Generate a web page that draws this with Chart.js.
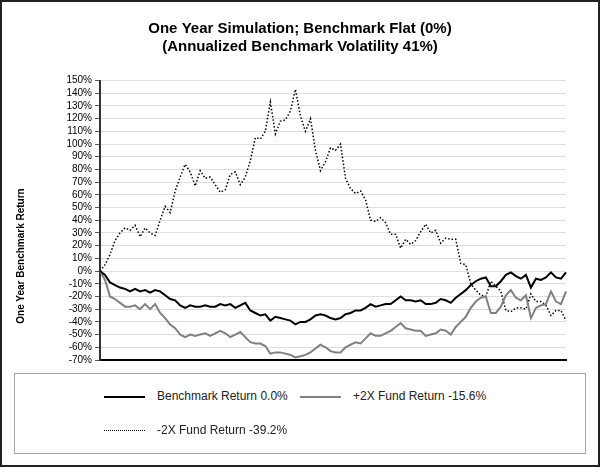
<!DOCTYPE html>
<html lang="en">
<head>
  <meta charset="UTF-8">
  <title>One Year Simulation</title>
  <style>
    body {
      margin: 0;
      font-family: Arial, "Liberation Sans", sans-serif;
      background: #fff;
    }
    .frame {
      position: absolute;
      left: 0;
      top: 0;
      width: 596px;
      height: 463px;
      border: 2px solid #222;
    }
    #chartWrap {
      position: absolute;
      left: 0;
      top: 0;
      width: 600px;
      height: 369px;
    }
    .ytitle {
      position: absolute;
      left: 20px;
      top: 256px;
      transform: translate(-50%, -50%) rotate(-90deg);
      font-size: 10px;
      font-weight: bold;
      color: #000;
      white-space: nowrap;
    }
    .legend {
      position: absolute;
      left: 14px;
      top: 373px;
      width: 570px;
      height: 79px;
      border: 1px solid #a6a6a6;
    }
    .item {
      position: absolute;
      font-size: 12px;
      color: #222;
      white-space: nowrap;
    }
    .item .swatch {
      position: absolute;
      left: 0;
      width: 41px;
      top: 7px;
    }
    .item span.txt {
      position: absolute;
      left: 53px;
      top: 0;
    }
  </style>
</head>
<body>
  <div id="chartWrap"><canvas id="chart"></canvas></div>
  <div class="ytitle">One Year Benchmark Return</div>
  <div class="legend" id="legend"></div>
  <div class="frame"></div>

  <script src="https://cdn.jsdelivr.net/npm/chart.js"></script>
  <script>
    // values, roughly one point every 5 px across the plot
    const benchmark = [0, -3, -9, -11, -13, -14, -16, -14, -16, -15, -17, -15, -16, -19, -22, -23, -27, -29, -27, -28,
      -28, -27, -28, -28, -26, -27, -26, -29, -27, -25, -31, -33, -35, -34, -39, -36, -37, -38, -39, -42,
      -40, -40, -38, -35, -34, -35, -37, -38, -37, -34, -33, -31, -31, -29, -26, -28, -27, -26, -26, -23,
      -20, -23, -23, -24, -23, -26, -26, -25, -22, -23, -25, -21, -18, -15, -11, -8, -6, -5, -12, -12,
      -8, -3, -1, -4, -6, -3, -13, -6, -7, -5, -1, -5, -6, -1];
    const plus2x = [0, -7, -20, -22, -25, -28, -28, -27, -30, -26, -30, -26, -33, -37, -42, -45, -50, -52, -50, -51,
      -50, -49, -51, -49, -47, -49, -52, -50, -48, -52, -56, -57, -57, -59, -65, -64, -64, -65, -66, -68,
      -67, -66, -64, -61, -58, -60, -63, -64, -64, -60, -58, -56, -57, -53, -49, -51, -51, -49, -47, -44,
      -41, -45, -46, -47, -47, -51, -50, -49, -46, -47, -50, -44, -40, -36, -29, -24, -21, -20, -33, -33,
      -28, -19, -15, -21, -23, -19, -37, -29, -27, -26, -16, -24, -26, -16];
    const minus2x = [0, 5, 13, 24, 30, 34, 32, 36, 27, 34, 30, 28, 40, 51, 46, 63, 74, 84, 78, 67,
      79, 73, 74, 68, 62, 64, 76, 78, 68, 74, 87, 105, 104, 110, 133, 108, 118, 119, 126, 143,
      122, 110, 120, 95, 79, 86, 97, 95, 100, 73, 65, 61, 63, 56, 40, 39, 42, 38, 29, 29,
      18, 25, 21, 24, 31, 37, 30, 32, 22, 26, 25, 25, 6, 5, -10, -15, -19, -20, -8, -12,
      -16, -31, -32, -29, -29, -30, -18, -24, -24, -27, -35, -31, -31, -39];
    const seriesNames = ["Benchmark Return 0.0%", "+2X Fund Return -15.6%", "-2X Fund Return -39.2%"];
    const days = benchmark.map(() => "");

    const datasets = [
      { label: seriesNames[0], data: benchmark, borderColor: "#000", borderWidth: 2 },
      { label: seriesNames[1], data: plus2x, borderColor: "#808080", borderWidth: 2 },
      { label: seriesNames[2], data: minus2x, borderColor: "#000", borderWidth: 1.5, borderDash: [1.5, 2] }
    ].map(d => Object.assign(d, { pointRadius: 0, fill: false, tension: 0 }));

    new Chart(document.getElementById("chart"), {
      type: "line",
      data: { labels: days, datasets: datasets },
      options: {
        responsive: true,
        maintainAspectRatio: false,
        animation: false,
        layout: { padding: { left: 34, right: 34, top: 0, bottom: 2 } },
        plugins: {
          legend: { display: false },
          tooltip: { enabled: false },
          title: {
            display: true,
            text: ["One Year Simulation; Benchmark Flat (0%)", "(Annualized Benchmark Volatility 41%)"],
            color: "#000",
            font: { family: "Arial", size: 15, weight: "bold", lineHeight: 1.25 },
            padding: { top: 19, bottom: 24 }
          }
        },
        scales: {
          x: {
            grid: { display: false },
            border: { display: true, color: "#000", width: 2 },
            ticks: { display: false },
            afterFit: s => { s.height = 0; }
          },
          y: {
            min: -70,
            max: 150,
            ticks: {
              stepSize: 10,
              autoSkip: false,
              color: "#000",
              font: { family: "Arial", size: 10 },
              padding: 3,
              callback: v => v + "%"
            },
            grid: { color: "#dedede", lineWidth: 1, tickColor: "#555", tickLength: 5 },
            border: { color: "#333", width: 2 },
            afterFit: s => { s.width = 66; }
          }
        }
      }
    });

    // legend box below the chart
    const legend = document.getElementById("legend");
    const spots = [[89, 15], [285, 15], [89, 49]];
    datasets.forEach((d, i) => {
      const el = document.createElement("div");
      el.className = "item";
      el.style.left = spots[i][0] + "px";
      el.style.top = spots[i][1] + "px";
      const sw = document.createElement("div");
      sw.className = "swatch";
      sw.style.borderTop = d.borderDash ? "1px dotted #000" : "2px solid " + d.borderColor;
      const tx = document.createElement("span");
      tx.className = "txt";
      tx.textContent = d.label;
      el.appendChild(sw);
      el.appendChild(tx);
      legend.appendChild(el);
    });
  </script>
</body>
</html>
